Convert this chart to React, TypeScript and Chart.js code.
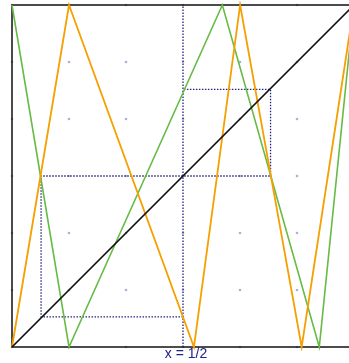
import React, { useEffect, useRef } from "react";
import { Chart, registerables } from "chart.js";

Chart.register(...registerables);

// grid positions (multiples of 1/6)
const gridTicks = [0, 1 / 6, 2 / 6, 3 / 6, 4 / 6, 5 / 6, 1];

// diagonal y = x
const diagX = [0, 1];
const diagY = [0, 1];

// orange piecewise map
const orangeX = [0, 0.1667, 0.532, 0.667, 0.847, 1];
const orangeY = [0, 1, 0, 1, 0, 1];

// green piecewise map
const greenX = [0, 0.1667, 0.615, 0.8985, 1];
const greenY = [1, 0, 1, 0, 1];

// dotted marker at x = 1/2
const markerX = [0.5, 0.5];
const markerY = [0, 1];

// dotted cobweb path
const cobwebX = [0.5, 0.085, 0.085, 0.756, 0.756, 0.5];
const cobwebY = [0.088, 0.088, 0.5, 0.5, 0.753, 0.753];

const markerLabel = "x = 1/2";

const zip = (xs: number[], ys: number[]) => xs.map((x, i) => ({ x, y: ys[i] }));

const CW = 370;
const CH = 363;

export default function App() {
  const ref = useRef<HTMLCanvasElement>(null);
  useEffect(() => {
    if (!ref.current) return;
    const decor = {
      id: "decor",
      beforeDatasetsDraw(chart: any) {
        const { ctx, scales } = chart;
        const xs = scales.x, ys = scales.y;
        ctx.save();
        ctx.fillStyle = "#a9b3d6";
        for (const gx of gridTicks) {
          for (const gy of gridTicks) {
            ctx.beginPath();
            ctx.arc(xs.getPixelForValue(gx), ys.getPixelForValue(gy), 1.3, 0, Math.PI * 2);
            ctx.fill();
          }
        }
        ctx.strokeStyle = "#111";
        ctx.lineWidth = 1.5;
        const l = xs.getPixelForValue(0), r = xs.getPixelForValue(1);
        const t = ys.getPixelForValue(1), b = ys.getPixelForValue(0);
        ctx.strokeRect(l, t, r - l, b - t);
        ctx.restore();
      },
      afterDraw(chart: any) {
        const { ctx, scales } = chart;
        ctx.save();
        ctx.fillStyle = "#22228a";
        ctx.font = "14px 'Liberation Sans', sans-serif";
        ctx.textAlign = "center";
        ctx.textBaseline = "middle";
        ctx.fillText(markerLabel, scales.x.getPixelForValue(0.5) + 3, scales.y.getPixelForValue(0) + 7.5);
        ctx.restore();
      },
    };
    const dotted = {
      borderColor: "#23237e",
      borderWidth: 1.3,
      borderDash: [1.5, 1.5],
      pointRadius: 0,
      tension: 0,
      showLine: true,
      fill: false,
      clip: 4,
    };
    const chart = new Chart(ref.current, {
      type: "scatter",
      data: {
        datasets: [
          { data: zip(diagX, diagY), borderColor: "#111111", borderWidth: 1.7, pointRadius: 0, showLine: true, clip: 4 },
          { data: zip(orangeX, orangeY), borderColor: "#f5a000", borderWidth: 1.8, pointRadius: 0, showLine: true, clip: 4 },
          { data: zip(greenX, greenY), borderColor: "#66bb44", borderWidth: 1.6, pointRadius: 0, showLine: true, clip: 4 },
          { data: zip(markerX, markerY), ...dotted },
          { data: zip(cobwebX, cobwebY), ...dotted },
        ] as any,
      },
      options: {
        animation: false,
        responsive: false,
        maintainAspectRatio: false,
        layout: { padding: { left: 12, top: 5, right: CW - 354, bottom: CH - 347 } },
        plugins: { legend: { display: false }, tooltip: { enabled: false } },
        scales: {
          x: { type: "linear", min: 0, max: 1, display: false },
          y: { type: "linear", min: 0, max: 1, display: false },
        },
      },
      plugins: [decor],
    });
    return () => chart.destroy();
  }, []);
  return (
    <div style={{ position: "fixed", left: 0, top: 0, width: 349, height: 363, overflow: "hidden", background: "#fff" }}>
      <canvas ref={ref} width={CW} height={CH} style={{ width: CW, height: CH, display: "block" }} />
    </div>
  );
}
